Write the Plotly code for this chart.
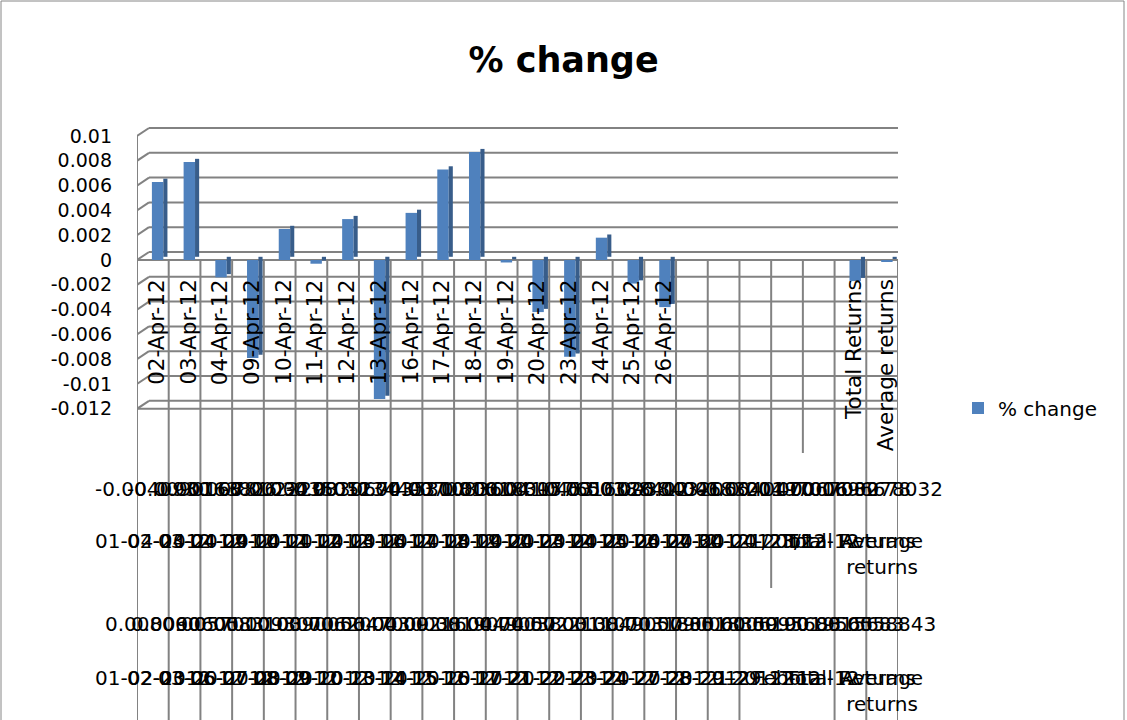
import plotly.graph_objects as go

# ---------------- data ----------------
categories = ["02-Apr-12", "03-Apr-12", "04-Apr-12", "09-Apr-12", "10-Apr-12", "11-Apr-12",
              "12-Apr-12", "13-Apr-12", "16-Apr-12", "17-Apr-12", "18-Apr-12", "19-Apr-12",
              "20-Apr-12", "23-Apr-12", "24-Apr-12", "25-Apr-12", "26-Apr-12",
              "", "", "", "", "", "Total Returns", "Average returns"]
pct_change = [0.0063, 0.0079, -0.0014, -0.0079, 0.0025, -0.0003, 0.0033, -0.0112, 0.0038,
              0.0073, 0.0087, -0.0002, -0.0042, -0.0078, 0.0018, -0.0019, -0.0038,
              None, None, None, None, None, -0.0017, -0.0001]
y_tick_vals = [0.01, 0.008, 0.006, 0.004, 0.002, 0, -0.002, -0.004, -0.006, -0.008, -0.01, -0.012]
y_tick_text = ["0.01", "0.008", "0.006", "0.004", "0.002", "0", "-0.002", "-0.004", "-0.006",
               "-0.008", "-0.01", "-0.012"]

# garbled multi-level category rows under the chart
row1_labels = ["-0.0040930", "-0.0090168", "0.00163826", "0.00781034", "-0.0022298", "0.00035052",
               "-0.0030674", "0.01134403", "-0.0035310", "-0.0070816", "-0.0083600", "0.00018315",
               "0.00410453", "0.00776503", "-0.0016026", "0.00188412", "0.00384046", "-0.0032066",
               "0.00183214", "-0.0040470", "0.00197006", "0.00067032", "0.01696678", "0.00078032"]
row2_labels = ["01-04-2012", "02-04-2012", "03-04-2012", "04-04-2012", "09-04-2012", "10-04-2012",
               "11-04-2012", "12-04-2012", "13-04-2012", "16-04-2012", "17-04-2012", "18-04-2012",
               "19-04-2012", "20-04-2012", "23-04-2012", "24-04-2012", "25-04-2012", "26-04-2012",
               "27-04-2012", "30-04-2012", "1/23/12", "Total-12", "Total Returns", "Average<br>returns"]
row3_labels = ["0.008060", "0.0090605", "0.0057010", "0.0083103", "0.0093070", "0.0090056",
               "0.0062004", "0.0047009", "0.0030038", "0.0021604", "0.0019074", "0.0049057",
               "0.0003803", "0.0022138", "0.0011070", "0.0049057", "0.0031835", "0.0090061",
               "0.0018359", "0.0006190", "0.0095683", "0.0019565", "0.0015683", "0.0058843"]
row4_labels = ["01-02-2012", "02-03-2012", "03-06-2012", "06-07-2012", "07-08-2012", "08-09-2012",
               "09-10-2012", "10-13-2012", "13-14-2012", "14-15-2012", "15-16-2012", "16-17-2012",
               "17-21-2012", "21-22-2012", "22-23-2012", "23-24-2012", "24-27-2012", "27-28-2012",
               "28-29-2012", "1-29-12", "Feb-12", "Total-12", "Total Returns", "Average<br>returns"]

# ---------------- geometry helpers ----------------
W, H = 1127, 720
PLOT_L, PLOT_R, PLOT_T = 137, 898, 120
ZERO_PX = 260.0
PX_PER_UNIT = 12400.0
Y_TOP = (ZERO_PX - PLOT_T) / PX_PER_UNIT
Y_BOT = -(H - ZERO_PX) / PX_PER_UNIT
n = len(categories)
x_idx = list(range(n))
CAT_PX = (PLOT_R - PLOT_L) / n
DX = 12 / CAT_PX          # 3-D depth offset (x, in categories)
DY = 8 / PX_PER_UNIT      # 3-D depth offset (y, in data units)


def px_to_y(p):
    return (ZERO_PX - p) / PX_PER_UNIT


def px_to_paper_x(p):
    return (p - PLOT_L) / (PLOT_R - PLOT_L)


def px_to_paper_y(p):
    return 1 - (p - PLOT_T) / (H - PLOT_T)


FONT = "DejaVu Sans"
GRID = "#828282"
GW = 2

fig = go.Figure()

# front faces
fig.add_trace(go.Bar(
    x=x_idx, y=pct_change, name="% change", width=0.36, offset=-0.03,
    marker=dict(color="#4F81BD", line=dict(width=0)),
    showlegend=True,
))
# side faces
side_base = [None if v is None else min(v, 0) + DY * 0.4 for v in pct_change]
side_h = [None if v is None else abs(v) for v in pct_change]
fig.add_trace(go.Bar(
    x=x_idx, y=side_h, base=side_base, width=0.13, offset=0.33,
    marker=dict(color="#385D8A", line=dict(width=0)),
    showlegend=False, hoverinfo="skip",
))

shapes = []
# back-wall gridlines + left-wall diagonals + left tick marks
for v in y_tick_vals:
    shapes.append(dict(type="line", xref="x", yref="y", x0=-0.5 + DX, x1=n - 0.5 + DX,
                       y0=v + DY, y1=v + DY, line=dict(color=GRID, width=GW), layer="below"))
    shapes.append(dict(type="line", xref="x", yref="y", x0=-0.5, x1=-0.5 + DX,
                       y0=v, y1=v + DY, line=dict(color=GRID, width=GW), layer="below"))
    shapes.append(dict(type="line", xref="x", yref="y", x0=-0.5 - 0.22, x1=-0.5,
                       y0=v, y1=v, line=dict(color=GRID, width=GW), layer="below"))
# front category axis at zero and front floor edge
for v in (0, y_tick_vals[-1]):
    shapes.append(dict(type="line", xref="x", yref="y", x0=-0.5, x1=n - 0.5,
                       y0=v, y1=v, line=dict(color=GRID, width=GW), layer="below"))
shapes.append(dict(type="line", xref="x", yref="y", x0=n - 0.5, x1=n - 0.5 + DX,
                   y0=y_tick_vals[-1], y1=y_tick_vals[-1] + DY, line=dict(color=GRID, width=GW),
                   layer="below"))
# left axis line
shapes.append(dict(type="line", xref="x", yref="y", x0=-0.5, x1=-0.5,
                   y0=y_tick_vals[0], y1=0, line=dict(color=GRID, width=GW), layer="below"))
# category dividers below the axis
short_dividers = {20: px_to_y(588), 21: px_to_y(453)}
for b in range(n + 1):
    yb = short_dividers.get(b, Y_BOT)
    shapes.append(dict(type="line", xref="x", yref="y", x0=b - 0.5, x1=b - 0.5,
                       y0=0, y1=yb, line=dict(color=GRID, width=GW), layer="below"))
# outer chart border
shapes.append(dict(type="rect", xref="paper", yref="paper",
                   x0=px_to_paper_x(1), x1=px_to_paper_x(1124),
                   y0=px_to_paper_y(730), y1=px_to_paper_y(1),
                   line=dict(color="#868686", width=1), fillcolor="rgba(0,0,0,0)"))

annotations = []
# rotated category labels
for i, c in enumerate(categories):
    if not c:
        continue
    annotations.append(dict(x=i, y=0, xref="x", yref="y", text=c, textangle=-90,
                            showarrow=False, xanchor="center", yanchor="top", yshift=-17,
                            xshift=3, font=dict(family=FONT, size=21.5, color="black")))
# garbled rows
for labels, top_px in ((row1_labels, 475), (row2_labels, 527), (row3_labels, 610), (row4_labels, 664)):
    for i, t in enumerate(labels):
        annotations.append(dict(x=i, y=px_to_y(top_px), xref="x", yref="y", text=t,
                                showarrow=False, xanchor="center", yanchor="top",
                                font=dict(family=FONT, size=20, color="black")))

fig.update_layout(
    width=W, height=H,
    margin=dict(l=PLOT_L, r=W - PLOT_R, t=PLOT_T, b=0, pad=0),
    paper_bgcolor="white", plot_bgcolor="white",
    barmode="overlay",
    title=dict(text="<b>% change</b>", x=0.5, xref="container", xanchor="center",
               y=1 - 60 / H, yref="container", yanchor="middle",
               font=dict(family=FONT, size=35, color="black")),
    xaxis=dict(range=[-0.5, n - 0.5], showgrid=False, zeroline=False, showticklabels=False,
               showline=False, ticks=""),
    yaxis=dict(range=[Y_BOT, Y_TOP], tickvals=y_tick_vals, ticktext=y_tick_text,
               showgrid=False, zeroline=False, showline=False, ticks="",
               ticklabelstandoff=24, tickfont=dict(family=FONT, size=19, color="black")),
    legend=dict(x=px_to_paper_x(958), y=px_to_paper_y(408), xanchor="left", yanchor="middle",
                font=dict(family=FONT, size=20, color="black"), bgcolor="rgba(0,0,0,0)"),
    shapes=shapes,
    annotations=annotations,
    showlegend=True,
)

fig.write_html("out.html")
